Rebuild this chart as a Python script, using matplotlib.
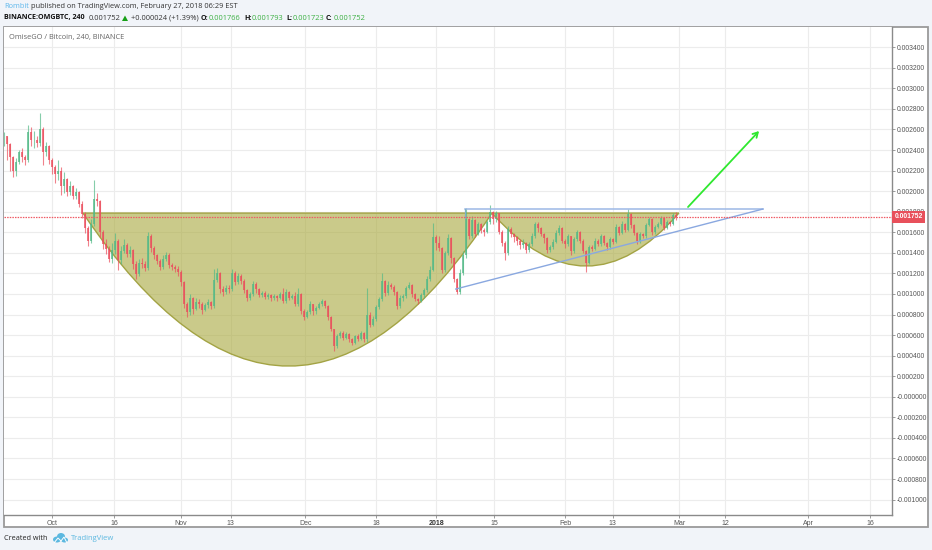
import matplotlib
matplotlib.use('Agg')
import matplotlib.pyplot as plt
import numpy as np
from matplotlib.patches import PathPatch, Rectangle, Polygon, Ellipse
from matplotlib.path import Path
from matplotlib.transforms import blended_transform_factory

plt.rcParams['font.family'] = ['Open Sans', 'DejaVu Sans']

# prices in 1e-6 BTC, one bar every 0.722 days, open = previous close
closes = [
    2540, 2460, 2330, 2200, 2280, 2380, 2330, 2300, 2580, 2500,
    2500, 2470, 2600, 2380, 2440, 2300, 2240, 2170, 2200, 2050,
    2120, 1990, 2050, 1950, 1990, 1880, 1780, 1640, 1520, 1680,
    1920, 1900, 1600, 1490, 1440, 1340, 1430, 1520, 1330, 1420,
    1480, 1390, 1430, 1290, 1190, 1300, 1290, 1250, 1560, 1450,
    1380, 1320, 1260, 1340, 1380, 1280, 1260, 1240, 1210, 1120,
    900, 820, 960, 850, 920, 900, 840, 890, 920, 880,
    1140, 1200, 1050, 1020, 1060, 1050, 1200, 1120, 1170, 1130,
    1040, 960, 1000, 1100, 1050, 990, 1010, 970, 990, 960,
    980, 960, 1000, 930, 1020, 960, 980, 900, 1000, 830,
    780, 820, 900, 830, 860, 900, 930, 880, 780, 660,
    490, 590, 620, 570, 610, 560, 520, 590, 560, 620,
    560, 800, 700, 760, 870, 950, 1130, 1010, 1090, 1070,
    1020, 880, 960, 980, 1060, 1090, 1000, 950, 930, 990,
    1040, 1150, 1230, 1550, 1500, 1450, 1230, 1400, 1540, 1350,
    1150, 1020, 1200, 1380, 1730, 1560, 1720, 1580, 1680, 1620,
    1600, 1700, 1800, 1730, 1790, 1600, 1500, 1400, 1630, 1580,
    1550, 1520, 1480, 1500, 1430, 1490, 1560, 1680, 1640, 1580,
    1540, 1430, 1460, 1510, 1590, 1640, 1520, 1490, 1560, 1420,
    1530, 1600, 1520, 1420, 1300, 1460, 1440, 1520, 1490, 1560,
    1500, 1460, 1530, 1510, 1650, 1590, 1680, 1620, 1780, 1670,
    1590, 1520, 1580, 1560, 1670, 1730, 1600, 1650, 1680, 1740,
    1640, 1700, 1680, 1770, 1752,
]
highs = [
    2580, 2540, 2470, 2340, 2320, 2400, 2420, 2350, 2640, 2620,
    2590, 2540, 2760, 2620, 2480, 2450, 2320, 2250, 2300, 2240,
    2190, 2130, 2100, 2060, 2030, 2000, 1900, 1800, 1660, 1730,
    2110, 1980, 1910, 1620, 1530, 1470, 1500, 1590, 1530, 1470,
    1530, 1500, 1470, 1440, 1320, 1340, 1350, 1320, 1600, 1580,
    1470, 1390, 1340, 1380, 1410, 1400, 1300, 1280, 1270, 1230,
    1130, 920, 1000, 970, 960, 950, 920, 910, 950, 930,
    1240, 1250, 1210, 1080, 1090, 1090, 1240, 1220, 1200, 1190,
    1150, 1050, 1020, 1130, 1120, 1060, 1030, 1030, 1010, 1000,
    1000, 990, 1020, 1060, 1050, 1030, 1000, 1020, 1060, 1010,
    850, 840, 930, 900, 880, 920, 950, 940, 890, 790,
    660, 610, 640, 640, 630, 620, 570, 600, 610, 640,
    630, 1060, 820, 790, 890, 970, 1200, 1140, 1130, 1110,
    1090, 1030, 990, 1000, 1080, 1120, 1100, 1010, 960, 1010,
    1060, 1170, 1270, 1690, 1570, 1560, 1460, 1420, 1580, 1550,
    1360, 1160, 1240, 1420, 1840, 1740, 1760, 1730, 1700, 1690,
    1640, 1720, 1870, 1810, 1810, 1790, 1620, 1520, 1660, 1650,
    1590, 1560, 1530, 1530, 1510, 1510, 1590, 1700, 1700, 1650,
    1590, 1550, 1480, 1530, 1620, 1670, 1650, 1530, 1580, 1560,
    1550, 1620, 1610, 1530, 1430, 1480, 1480, 1540, 1530, 1580,
    1570, 1510, 1550, 1540, 1680, 1660, 1710, 1690, 1830, 1790,
    1680, 1600, 1600, 1590, 1690, 1750, 1740, 1670, 1700, 1760,
    1750, 1720, 1710, 1790, 1793,
]
lows = [
    2440, 2300, 2200, 2140, 2150, 2260, 2280, 2250, 2280, 2440,
    2420, 2430, 2440, 2250, 2340, 2260, 2170, 2080, 2110, 1960,
    1980, 1950, 1960, 1920, 1920, 1850, 1740, 1590, 1470, 1500,
    1660, 1860, 1550, 1440, 1390, 1310, 1300, 1390, 1230, 1290,
    1400, 1360, 1360, 1240, 1150, 1170, 1250, 1220, 1230, 1410,
    1340, 1290, 1230, 1240, 1320, 1250, 1230, 1210, 1170, 1080,
    860, 780, 800, 810, 840, 860, 810, 830, 860, 850,
    860, 1120, 1010, 980, 1000, 1010, 1030, 1090, 1100, 1100,
    1010, 930, 940, 980, 1010, 970, 970, 950, 950, 930,
    940, 930, 950, 910, 910, 940, 950, 880, 880, 810,
    750, 770, 810, 800, 810, 850, 880, 860, 750, 640,
    450, 470, 570, 550, 560, 530, 500, 510, 540, 550,
    530, 530, 680, 690, 740, 850, 930, 980, 990, 1050,
    990, 850, 860, 930, 960, 1050, 970, 930, 900, 920,
    960, 1020, 1130, 1220, 1430, 1420, 1200, 1210, 1380, 1300,
    1120, 1000, 1000, 1180, 1350, 1530, 1540, 1550, 1570, 1590,
    1560, 1590, 1680, 1680, 1700, 1580, 1470, 1330, 1380, 1550,
    1510, 1480, 1440, 1450, 1400, 1410, 1470, 1540, 1600, 1560,
    1500, 1400, 1410, 1440, 1500, 1570, 1500, 1450, 1470, 1380,
    1400, 1520, 1500, 1400, 1210, 1290, 1420, 1430, 1470, 1470,
    1480, 1430, 1440, 1490, 1500, 1570, 1580, 1600, 1610, 1640,
    1570, 1490, 1500, 1540, 1540, 1660, 1570, 1580, 1640, 1670,
    1620, 1630, 1660, 1670, 1723,
]

# x axis is days since 1 Oct 2017, tradingview spacing is slightly uneven
tick_days = [0, 15, 31, 43, 61, 78, 92.5, 106.4, 123.5, 135, 151, 162, 182, 197]
tick_labels = ['Oct', '16', 'Nov', '13', 'Dec', '18', '2018', '15',
               'Feb', '13', 'Mar', '12', 'Apr', '16']
price_ticks = [34, 32, 30, 28, 26, 24, 22, 20, 18, 16, 14, 12, 10, 8, 6, 4, 2,
               0, -2, -4, -6, -8, -10]
price_labels = ['0.003400', '0.003200', '0.003000', '0.002800', '0.002600',
                '0.002400', '0.002200', '0.002000', '0.001800', '0.001600',
                '0.001400', '0.001200', '0.001000', '0.000800', '0.000600',
                '0.000400', '0.000200', '-0.000000', '-0.000200', '-0.000400',
                '-0.000600', '-0.000800', '-0.001000']
last_price = 1752

first_day = -11.55
bar_step = 0.722
up_color = '#53b987'
down_color = '#eb4d5c'
grey_text = '#555555'

W, H = 932, 550
fig = plt.figure(figsize=(W / 100, H / 100), dpi=100, facecolor='#f1f4f9')


def px(x, y):
    """pixel position (from top left) to figure fraction"""
    return x / W, 1 - y / H


# white chart frame behind the axes
fig.add_artist(Rectangle((4 / W, 1 - 527 / H), 924 / W, 500 / H, transform=fig.transFigure,
                         facecolor='white', edgecolor='#9a9a9a', linewidth=1.3, zorder=0))

ax = fig.add_axes([4 / W, 1 - 515 / H, 888 / W, 488 / H], facecolor='white')
ax.set_xlim(first_day, 202.2)
ax.set_ylim(-1150, 3597)

ax.set_xticks(tick_days)
ax.set_xticklabels(tick_labels, fontsize=5.0, color=grey_text, family=['Liberation Sans'])
ax.set_yticks([p * 100 for p in price_ticks])
ax.set_yticklabels(price_labels, fontsize=4.9, color=grey_text, family=['Liberation Sans'])
ax.yaxis.tick_right()
ax.tick_params(axis='both', length=2, width=0.6, color='#8a8a8a', pad=1.5)
ax.get_xticklabels()[6].set_fontweight('bold')
ax.get_xticklabels()[6].set_color('#333333')
ax.grid(True, color='#ececec', linewidth=0.8)
ax.set_axisbelow(True)
for name, spine in ax.spines.items():
    spine.set_visible(name in ('right', 'bottom'))
    spine.set_color('#8a8a8a')
    spine.set_linewidth(1.0)

# cup and handle, both quadratic curves closed along the rim
rim = 1787
for start, ctrl_x, ctrl_y, end in [(7.46, 57.3, -1190, 105.9), (105.9, 128.8, 756, 150.9)]:
    path = Path([(start, rim), (ctrl_x, ctrl_y), (end, rim), (start, rim)],
                [Path.MOVETO, Path.CURVE3, Path.CURVE3, Path.CLOSEPOLY])
    ax.add_patch(PathPatch(path, facecolor='#a8a83c', alpha=0.6, edgecolor='none', zorder=1.5))
    ax.add_patch(PathPatch(path, facecolor='none', edgecolor='#a3a344', linewidth=1.0, zorder=1.6))

# candles, drawn over the fill
closes_arr = np.array(closes, dtype=float)
opens = np.r_[closes_arr[0], closes_arr[:-1]]
days = first_day + bar_step * np.arange(len(closes_arr))
colors = [up_color if c >= o else down_color for o, c in zip(opens, closes_arr)]
ax.vlines(days, lows, highs, colors=colors, linewidth=0.8, alpha=0.7, zorder=2)
ax.bar(days, np.abs(closes_arr - opens), bottom=np.minimum(opens, closes_arr), width=0.6,
       color=colors, linewidth=0, alpha=0.75, zorder=3)

# triangle lines
ax.plot([99.4, 171.1], [1826, 1826], color='#9db8e6', linewidth=1.1, zorder=5)
ax.plot([97.2, 171.1], [1048, 1826], color='#8aa8e0', linewidth=1.0, zorder=5)
ax.plot([99.4, 99.4], [1826, 1740], color='#7fb0c8', linewidth=0.9, zorder=5)

# last price line and its label
ax.axhline(last_price, color='#ee5a64', linewidth=0.9, linestyle=(0, (1.2, 0.9)), zorder=5)
trans = blended_transform_factory(ax.transAxes, ax.transData)
ax.text(1.0028, last_price, '0.001752', transform=trans, ha='left', va='center', fontsize=4.9,
        color='white', fontweight='bold', family=['Liberation Sans'], clip_on=False, zorder=6,
        bbox=dict(boxstyle='square,pad=0.35', facecolor='#e8505b', edgecolor='none'))

# green arrow
ax.annotate('', xy=(170.2, 2585), xytext=(153.1, 1846),
            arrowprops=dict(arrowstyle='->,head_width=0.2,head_length=0.35', color='#2fe82f',
                            linewidth=1.3, shrinkA=0, shrinkB=0), zorder=6)


def put(x, y, s, **kw):
    fx, fy = px(x, y)
    kw.setdefault('fontsize', 5.4)
    kw.setdefault('color', '#222222')
    fig.text(fx, fy, s, ha='left', va='center', **kw)


# header
put(4, 7, 'Rombit', color='#5fb8ec', fontsize=5.3)
put(31, 7, 'published on TradingView.com, February 27, 2018 06:29 EST', color='#333333', fontsize=5.3)
put(4, 18, 'BINANCE:OMGBTC, 240', fontweight='bold', color='#111111', fontsize=5.1)
put(89, 18, '0.001752', color='#333333')
fig.add_artist(Polygon([px(122, 21), px(128, 21), px(125, 15.5)], closed=True,
                       transform=fig.transFigure, facecolor='#17a017', edgecolor='none'))
put(131, 18, '+0.000024 (+1.39%)', color='#333333')
for x, key, value_x, value in [(201, 'O:', 209, '0.001766'), (244, 'H:', 252, '0.001793'),
                               (286, 'L:', 293, '0.001723'), (326, 'C:', 334, '0.001752')]:
    put(x, 18, key, fontweight='bold', color='#111111', fontsize=5.1)
    put(value_x, 18, value, color='#3cb043')

put(9, 37, 'OmiseGO / Bitcoin, 240, BINANCE', color='#666666', fontsize=5.35)

# footer
put(4, 539, 'Created with', color='#222222', fontsize=5.2)
put(71, 539, 'TradingView', color='#5cb8e0', fontsize=5.5)
for cx, cy, w, h in [(57, 539.5, 8, 6), (61, 536.5, 8, 7), (64.5, 540, 7, 5)]:
    fig.add_artist(Ellipse(px(cx, cy), w / W, h / H, transform=fig.transFigure,
                           facecolor='#5cb8e0', edgecolor='none'))
fig.add_artist(Polygon([px(54, 543), px(58, 538), px(61, 541), px(64, 537), px(67, 543)], closed=False,
                       transform=fig.transFigure, facecolor='none', edgecolor='white', linewidth=0.7))

fig.savefig('out.png', dpi=100, facecolor=fig.get_facecolor())
